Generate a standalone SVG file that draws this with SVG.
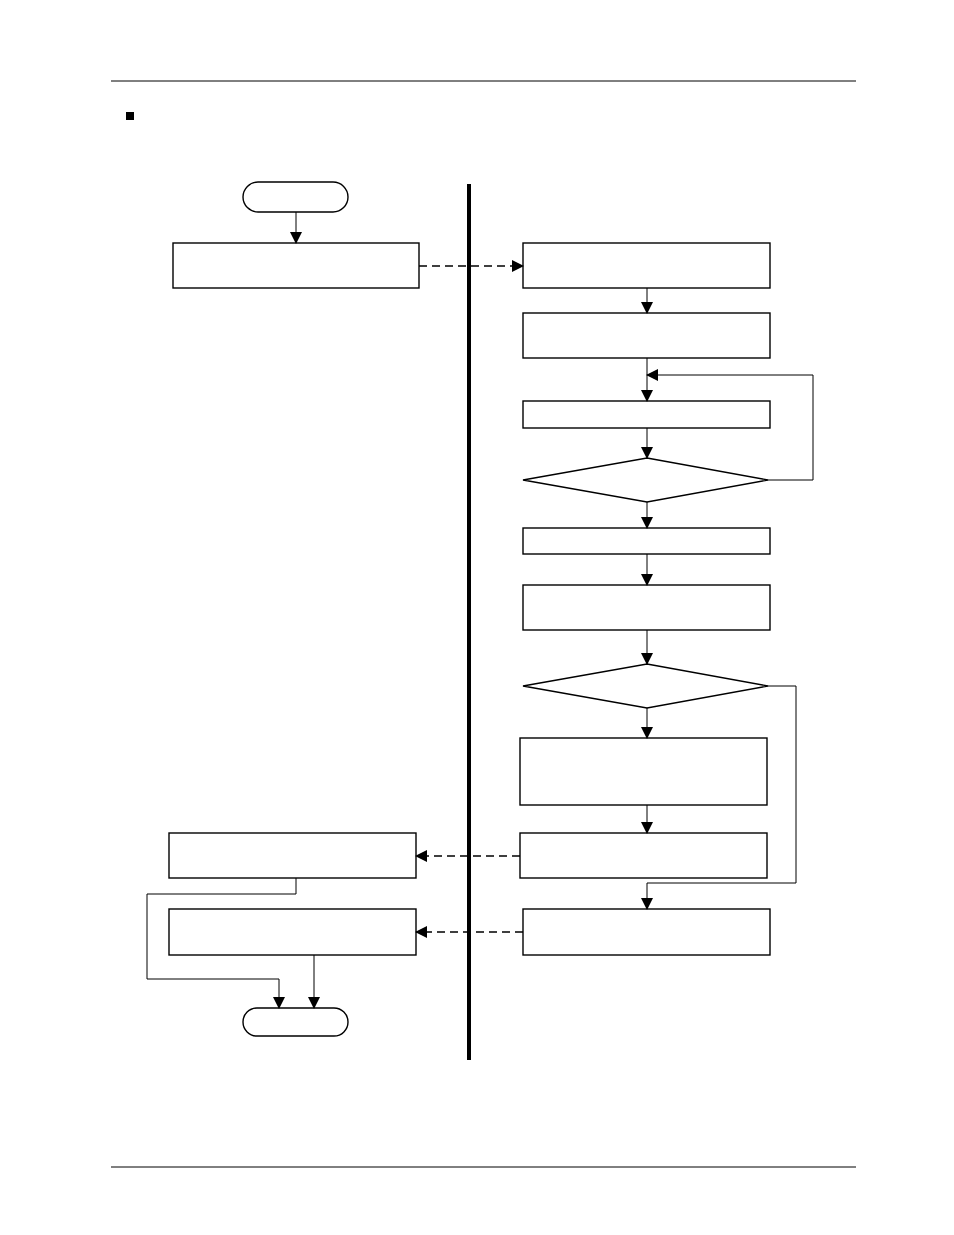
<svg xmlns="http://www.w3.org/2000/svg" width="954" height="1235" viewBox="0 0 954 1235">
<style>
.b{fill:#fff;stroke:#000;stroke-width:1.4}
.c{fill:none;stroke:#000;stroke-width:1}
.d{fill:none;stroke:#000;stroke-width:1.4;stroke-dasharray:8,5}
</style>
<defs><marker id="a" markerWidth="12" markerHeight="12" refX="11" refY="6" orient="auto" markerUnits="userSpaceOnUse"><path d="M0,0 L12,6 L0,12 Z" fill="#000"/></marker></defs>
<rect width="954" height="1235" fill="#fff"/>
<line x1="111" y1="81" x2="856" y2="81" stroke="#000"/>
<line x1="111" y1="1167" x2="856" y2="1167" stroke="#000"/>
<rect x="126" y="112" width="8" height="8" fill="#000"/>
<line x1="469" y1="184" x2="469" y2="1060" stroke="#000" stroke-width="4"/>
<g id="start"><rect class="b" x="243" y="182" width="105" height="30" rx="15"/></g>
<g id="L1"><rect class="b" x="173" y="243" width="246" height="45"/></g>
<g id="R1"><rect class="b" x="523" y="243" width="247" height="45"/></g>
<g id="R2"><rect class="b" x="523" y="313" width="247" height="45"/></g>
<g id="R3"><rect class="b" x="523" y="401" width="247" height="27"/></g>
<g id="D1"><polygon class="b" points="647,458 768,480 647,502 523,480"/></g>
<g id="R4"><rect class="b" x="523" y="528" width="247" height="26"/></g>
<g id="R5"><rect class="b" x="523" y="585" width="247" height="45"/></g>
<g id="D2"><polygon class="b" points="647,664 768,686 647,708 523,686"/></g>
<g id="R6"><rect class="b" x="520" y="738" width="247" height="67"/></g>
<g id="R7"><rect class="b" x="520" y="833" width="247" height="45"/></g>
<g id="R8"><rect class="b" x="523" y="909" width="247" height="46"/></g>
<g id="L2"><rect class="b" x="169" y="833" width="247" height="45"/></g>
<g id="L3"><rect class="b" x="169" y="909" width="247" height="46"/></g>
<g id="end"><rect class="b" x="243" y="1008" width="105" height="28" rx="14"/></g>
<g id="connectors">
<line class="c" x1="296" y1="212" x2="296" y2="243" marker-end="url(#a)"/>
<line class="d" x1="419" y1="266" x2="523" y2="266" marker-end="url(#a)"/>
<line class="c" x1="647" y1="288" x2="647" y2="313" marker-end="url(#a)"/>
<line class="c" x1="647" y1="358" x2="647" y2="401" marker-end="url(#a)"/>
<line class="c" x1="647" y1="428" x2="647" y2="458" marker-end="url(#a)"/>
<polyline class="c" points="768,480 813,480 813,375 647,375" marker-end="url(#a)"/>
<line class="c" x1="647" y1="502" x2="647" y2="528" marker-end="url(#a)"/>
<line class="c" x1="647" y1="554" x2="647" y2="585" marker-end="url(#a)"/>
<line class="c" x1="647" y1="630" x2="647" y2="664" marker-end="url(#a)"/>
<line class="c" x1="647" y1="708" x2="647" y2="738" marker-end="url(#a)"/>
<line class="c" x1="647" y1="805" x2="647" y2="833" marker-end="url(#a)"/>
<polyline class="c" points="768,686 796,686 796,883 647,883 647,909" marker-end="url(#a)"/>
<line class="d" x1="520" y1="856" x2="416" y2="856" marker-end="url(#a)"/>
<line class="d" x1="523" y1="932" x2="416" y2="932" marker-end="url(#a)"/>
<polyline class="c" points="296,878 296,894 147,894 147,979 279,979 279,1008" marker-end="url(#a)"/>
<line class="c" x1="314" y1="955" x2="314" y2="1008" marker-end="url(#a)"/>
</g>
</svg>
